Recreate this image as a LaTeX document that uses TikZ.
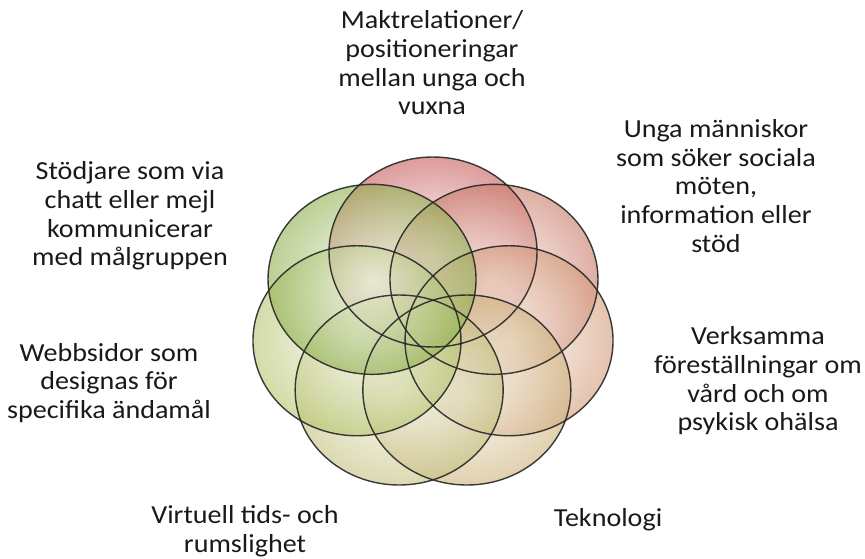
\documentclass[tikz,border=0pt]{standalone}
\usepackage{fontspec}
\setmainfont{Carlito}
\usetikzlibrary{positioning}
\definecolor{ringA}{HTML}{C65A5A}
\definecolor{ringB}{HTML}{C87866}
\definecolor{ringC}{HTML}{D49A78}
\definecolor{ringD}{HTML}{CDB27A}
\definecolor{ringE}{HTML}{C4C07E}
\definecolor{ringF}{HTML}{B5C56E}
\definecolor{ringG}{HTML}{8FB04E}

\begin{document}
\begin{tikzpicture}[x=1pt, y=-1pt,
  bubble/.style={fill opacity=0.6, inner color=#1!8, outer color=#1},
  rim/.style={draw=black!85, line width=1.4pt, draw opacity=0.9},
  topic/.style={align=center, inner sep=0pt, text=black!90,
    font=\fontsize{26}{28.7}\selectfont, xscale=1.08, transform shape}]
  \useasboundingbox (0,0) rectangle (865,559);
  \foreach \col [count=\i from 0] in {ringA,ringB,ringC,ringD,ringE,ringF,ringG}
    \path[bubble=\col] ({433+78*cos(90-\i*360/7)},{324.6-72.6*sin(90-\i*360/7)})
      ellipse [x radius=104, y radius=95];
  \foreach \i in {0,...,6}
    \draw[rim] ({433+78*cos(90-\i*360/7)},{324.6-72.6*sin(90-\i*360/7)})
      ellipse [x radius=104, y radius=95];
  \node[topic] (power) at (432,63) {Maktrelationer/\\positioneringar\\mellan unga och\\vuxna};
  \node[topic] (youth) at (716,186) {Unga människor\\som söker sociala\\möten,\\information eller\\stöd};
  \node[topic] (care) at (758,381) {Verksamma\\föreställningar om\\vård och om\\psykisk ohälsa};
  \node[topic] (tech) at (608,520) {Teknologi};
  \node[topic] (space) at (245,531) {Virtuell tids- och\\rumslighet};
  \node[topic] (web) at (109,383) {Webbsidor som\\designas för\\specifika ändamål};
  \node[topic] (helper) at (130,216) {Stödjare som via\\chatt eller mejl\\kommunicerar\\med målgruppen};
\end{tikzpicture}
\end{document}
